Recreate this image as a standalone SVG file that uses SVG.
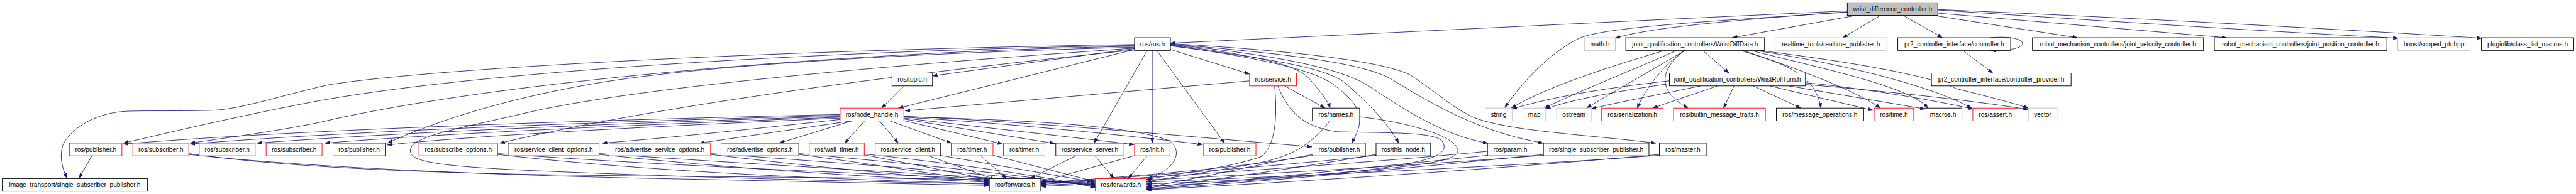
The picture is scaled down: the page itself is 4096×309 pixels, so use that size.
<svg xmlns="http://www.w3.org/2000/svg" width="4096" height="309" viewBox="0 0 4096 309">
<style>
.node rect{fill:#fff;stroke-width:1.3}
.k rect{stroke:#000}
.r rect{stroke:#ff0000}
.g rect{stroke:#bfbfbf}
.root rect{fill:#bfbfbf;stroke:#000}
.node text{font-family:"Liberation Sans",Arial,sans-serif;font-size:14px;text-anchor:middle;fill:#000}
#edges path{fill:none;stroke:#191970;stroke-width:1.2;marker-end:url(#arr)}
</style>
<defs>
<marker id="arr" viewBox="0 0 11 8" refX="11" refY="4" markerWidth="11" markerHeight="8" orient="auto" markerUnits="userSpaceOnUse">
<path d="M0,0 L11,4 L0,8 z" fill="#191970" stroke="#191970" stroke-width="0.5"/>
</marker>
</defs>
<rect width="4096" height="309" fill="#fff"/>
<g transform="scale(0.7233,0.7236)">
<g id="edges">
<path d="M4061,24 C3500,50 3000,75 2573,95"/>
<path d="M4061,27 C3700,50 3520,62 3470,85 C3400,120 3340,190 3308,237"/>
<path d="M4061,26 C3800,45 3620,62 3551,84"/>
<path d="M4081,34 L3808,83"/>
<path d="M4134,34 L4051,83"/>
<path d="M4184,34 L4270,83"/>
<path d="M4250,34 L4567,83"/>
<path d="M4260,29 L4895,83"/>
<path d="M4260,22 C4600,45 5000,70 5272,84"/>
<path d="M4260,21 C4700,40 5100,62 5456,84"/>
<path d="M4374,83 C4430,78 4452,90 4445,99 C4438,108 4410,112 4376,111"/>
<path d="M4315,111 L4381,161"/>
<path d="M3743,111 L3801,161"/>
<path d="M3660,111 C3560,140 3400,190 3322,238"/>
<path d="M3686,111 C3600,150 3460,205 3395,238"/>
<path d="M3704,111 C3640,150 3540,205 3488,238"/>
<path d="M3704,111 C3660,140 3620,190 3599,238"/>
<path d="M3704,111 C3650,150 3640,200 3711,238"/>
<path d="M3826,111 C3920,140 3990,160 4003,238"/>
<path d="M3831,111 C3950,150 4080,200 4134,238"/>
<path d="M3849,111 C4000,150 4200,190 4238,238"/>
<path d="M3858,111 C4050,140 4250,190 4334,238"/>
<path d="M3867,111 C4100,140 4250,170 4300,195 C4380,215 4430,228 4459,238"/>
<path d="M3670,178 C3560,190 3420,210 3324,240"/>
<path d="M3671,184 C3560,200 3450,220 3398,240"/>
<path d="M3739,189 C3640,210 3540,228 3498,240"/>
<path d="M3776,189 L3633,238"/>
<path d="M3812,189 L3789,238"/>
<path d="M3854,189 L3959,238"/>
<path d="M3890,189 L4118,243"/>
<path d="M3932,189 L4232,240"/>
<path d="M3969,182 C4100,195 4250,220 4337,240"/>
<path d="M3969,186 C4200,205 4380,228 4459,241"/>
<path d="M2494,107 L2050,167"/>
<path d="M2494,109 L1975,238"/>
<path d="M2573,109 L2747,163"/>
<path d="M2522,111 L2405,315"/>
<path d="M2533,111 L2533,315"/>
<path d="M2543,111 L2692,315"/>
<path d="M2573,99 C2750,120 2850,140 2880,175 C2910,210 2920,225 2924,238"/>
<path d="M2573,100 C2750,125 2880,150 2930,185 C2990,230 3005,260 2971,315"/>
<path d="M2573,101 C2800,130 2920,150 2960,185 C3010,230 3050,270 3075,315"/>
<path d="M2573,98 C2800,120 2950,150 3010,190 C3100,250 3180,300 3271,315"/>
<path d="M2573,97 C2850,120 3000,140 3060,175 C3150,230 3250,290 3393,315"/>
<path d="M2573,96 C2900,115 3050,140 3100,165 C3170,210 3210,255 3270,268 C3350,290 3500,298 3640,315"/>
<path d="M2494,98 C1700,110 950,150 720,187 C600,215 520,243 459,243 C380,245 320,243 275,245 C200,250 150,290 138,320 C130,345 137,370 147,392"/>
<path d="M2494,100 C1900,110 1100,150 700,222 C550,250 400,285 271,315"/>
<path d="M2494,102 C1900,112 1100,175 700,270 C600,290 500,303 418,315"/>
<path d="M2494,104 C1900,120 1500,150 1300,185 C1100,220 950,270 852,315"/>
<path d="M2494,106 C2000,140 1400,190 1150,250 C1000,285 905,300 902,330 C900,355 950,365 1160,375 C1500,390 1900,400 2175,405"/>
<path d="M2494,110 C2100,150 1500,220 1099,315"/>
<path d="M1988,189 L1938,238"/>
<path d="M2747,178 L1990,244"/>
<path d="M2824,189 L2913,238"/>
<path d="M2802,189 C2808,250 2806,320 2772,345 C2700,370 2600,380 2520,395"/>
<path d="M2809,189 C2830,240 2860,280 2940,290 C3050,293 3150,290 3170,310 C3190,340 3150,355 3000,375 C2800,395 2650,400 2520,405"/>
<path d="M2924,266 C2880,320 2840,345 2760,360 C2650,380 2580,390 2520,400"/>
<path d="M2989,257 C3100,270 3200,300 3205,330 C3208,355 3120,365 2950,380 C2800,395 2650,405 2520,410"/>
<path d="M2886,342 C2750,365 2550,385 2288,402"/>
<path d="M2886,340 C2750,365 2650,390 2520,412"/>
<path d="M3025,342 C2850,362 2550,385 2288,404"/>
<path d="M3025,340 C2880,365 2700,392 2520,414"/>
<path d="M3270,333 C3000,360 2600,385 2288,406"/>
<path d="M3270,342 C3000,370 2750,395 2520,416"/>
<path d="M3393,342 C3100,365 2700,388 2288,408"/>
<path d="M3393,340 C3100,370 2800,398 2520,417"/>
<path d="M3648,342 C3300,368 2800,390 2288,410"/>
<path d="M3648,340 C3300,372 2850,400 2520,418"/>
<path d="M202,343 L174,392"/>
<path d="M415,340 C600,360 900,380 1400,392 C1800,400 2000,405 2175,408"/>
<path d="M415,338 C600,365 900,383 1400,387 C1900,392 2200,393 2408,403"/>
<path d="M1094,340 C1400,375 1800,395 2175,404"/>
<path d="M1094,338 C1500,368 2000,385 2408,405"/>
<path d="M1317,340 C1600,370 1900,390 2175,401"/>
<path d="M1317,338 C1700,365 2100,385 2408,407"/>
<path d="M1562,340 C1800,368 2000,388 2175,399"/>
<path d="M1562,338 C1900,362 2200,385 2408,409"/>
<path d="M1756,340 C1950,365 2050,385 2175,397"/>
<path d="M1756,338 C2000,360 2250,385 2408,411"/>
<path d="M1900,341 C2000,360 2100,380 2175,395"/>
<path d="M1900,339 C2100,360 2300,388 2408,413"/>
<path d="M2041,343 L2187,395"/>
<path d="M2067,342 L2401,400"/>
<path d="M2156,343 L2213,393"/>
<path d="M2184,342 L2409,400"/>
<path d="M2365,343 L2265,393"/>
<path d="M2407,343 L2449,393"/>
<path d="M2496,342 L2288,400"/>
<path d="M2522,343 L2480,393"/>
<path d="M1985,265 L2204,317"/>
<path d="M1987,262 L2319,316"/>
<path d="M1987,260 L2493,318"/>
<path d="M1987,258 C2200,270 2450,295 2644,318"/>
<path d="M1987,256 C2300,270 2600,300 2884,323"/>
<path d="M1987,257 C2300,265 2500,280 2570,310 C2600,330 2590,370 2522,395"/>
<path d="M1873,266 L1713,315"/>
<path d="M1901,266 L1857,315"/>
<path d="M1933,266 L1975,315"/>
<path d="M1956,266 L2092,315"/>
<path d="M1847,252 C1400,262 700,282 271,317"/>
<path d="M1847,254 C1400,266 800,286 418,317"/>
<path d="M1847,256 C1400,270 900,290 565,315"/>
<path d="M1847,258 C1400,275 1000,292 714,315"/>
<path d="M1847,260 C1400,280 1050,298 852,319"/>
<path d="M1847,263 C1600,290 1450,305 1324,315"/>
<path d="M1873,266 L1538,315"/>
</g>
<g id="n_root" class="node root"><rect x="4061" y="6" width="199" height="28"/><text x="4160.5" y="25">wrist_difference_controller.h</text></g>
<g id="n_ros" class="node k"><rect x="2494" y="83" width="79" height="28"/><text x="2533.5" y="102">ros/ros.h</text></g>
<g id="n_math" class="node g"><rect x="3483" y="83" width="68" height="28"/><text x="3517" y="102">math.h</text></g>
<g id="n_wdd" class="node k"><rect x="3574" y="83" width="305" height="28"/><text x="3726.5" y="102">joint_qualification_controllers/WristDiffData.h</text></g>
<g id="n_rtp" class="node g"><rect x="3902" y="83" width="246" height="28"/><text x="4025" y="102">realtime_tools/realtime_publisher.h</text></g>
<g id="n_ctrl" class="node k"><rect x="4172" y="83" width="248" height="28"/><text x="4296" y="102">pr2_controller_interface/controller.h</text></g>
<g id="n_jvc" class="node k"><rect x="4468" y="83" width="376" height="28"/><text x="4656" y="102">robot_mechanism_controllers/joint_velocity_controller.h</text></g>
<g id="n_jpc" class="node k"><rect x="4868" y="83" width="379" height="28"/><text x="5057.5" y="102">robot_mechanism_controllers/joint_position_controller.h</text></g>
<g id="n_boost" class="node g"><rect x="5271" y="83" width="159" height="28"/><text x="5350.5" y="102">boost/scoped_ptr.hpp</text></g>
<g id="n_plug" class="node k"><rect x="5455" y="83" width="203" height="28"/><text x="5556.5" y="102">pluginlib/class_list_macros.h</text></g>
<g id="n_topic" class="node k"><rect x="1961" y="161" width="89" height="28"/><text x="2005.5" y="180">ros/topic.h</text></g>
<g id="n_service" class="node r"><rect x="2747" y="161" width="103" height="28"/><text x="2798.5" y="180">ros/service.h</text></g>
<g id="n_wrt" class="node k"><rect x="3670" y="161" width="299" height="28"/><text x="3819.5" y="180">joint_qualification_controllers/WristRollTurn.h</text></g>
<g id="n_cprov" class="node k"><rect x="4246" y="161" width="307" height="28"/><text x="4399.5" y="180">pr2_controller_interface/controller_provider.h</text></g>
<g id="n_nh" class="node r"><rect x="1847" y="238" width="140" height="28"/><text x="1917" y="257">ros/node_handle.h</text></g>
<g id="n_names" class="node k"><rect x="2885" y="238" width="104" height="28"/><text x="2937" y="257">ros/names.h</text></g>
<g id="n_string" class="node g"><rect x="3265" y="238" width="59" height="28"/><text x="3294.5" y="257">string</text></g>
<g id="n_map" class="node g"><rect x="3348" y="238" width="50" height="28"/><text x="3373" y="257">map</text></g>
<g id="n_ostream" class="node g"><rect x="3422" y="238" width="76" height="28"/><text x="3460" y="257">ostream</text></g>
<g id="n_ser" class="node r"><rect x="3521" y="238" width="135" height="28"/><text x="3588.5" y="257">ros/serialization.h</text></g>
<g id="n_bmt" class="node r"><rect x="3679" y="238" width="202" height="28"/><text x="3780" y="257">ros/builtin_message_traits.h</text></g>
<g id="n_mop" class="node k"><rect x="3905" y="238" width="192" height="28"/><text x="4001" y="257">ros/message_operations.h</text></g>
<g id="n_time" class="node r"><rect x="4120" y="238" width="87" height="28"/><text x="4163.5" y="257">ros/time.h</text></g>
<g id="n_macros" class="node k"><rect x="4230" y="238" width="83" height="28"/><text x="4271.5" y="257">macros.h</text></g>
<g id="n_assert" class="node r"><rect x="4337" y="238" width="99" height="28"/><text x="4386.5" y="257">ros/assert.h</text></g>
<g id="n_vector" class="node g"><rect x="4459" y="238" width="63" height="28"/><text x="4490.5" y="257">vector</text></g>
<g id="n_pub1" class="node r"><rect x="153" y="315" width="115" height="28"/><text x="210.5" y="334">ros/publisher.h</text></g>
<g id="n_sub1" class="node r"><rect x="292" y="315" width="123" height="28"/><text x="353.5" y="334">ros/subscriber.h</text></g>
<g id="n_sub2" class="node r"><rect x="438" y="315" width="123" height="28"/><text x="499.5" y="334">ros/subscriber.h</text></g>
<g id="n_sub3" class="node r"><rect x="585" y="315" width="123" height="28"/><text x="646.5" y="334">ros/subscriber.h</text></g>
<g id="n_pub2" class="node k"><rect x="732" y="315" width="115" height="28"/><text x="789.5" y="334">ros/publisher.h</text></g>
<g id="n_subopt" class="node r"><rect x="921" y="315" width="173" height="28"/><text x="1007.5" y="334">ros/subscribe_options.h</text></g>
<g id="n_scopt" class="node k"><rect x="1117" y="315" width="200" height="28"/><text x="1217" y="334">ros/service_client_options.h</text></g>
<g id="n_asopt" class="node r"><rect x="1339" y="315" width="223" height="28"/><text x="1450.5" y="334">ros/advertise_service_options.h</text></g>
<g id="n_aopt" class="node k"><rect x="1585" y="315" width="171" height="28"/><text x="1670.5" y="334">ros/advertise_options.h</text></g>
<g id="n_wtimer" class="node r"><rect x="1779" y="315" width="121" height="28"/><text x="1839.5" y="334">ros/wall_timer.h</text></g>
<g id="n_sclient" class="node k"><rect x="1924" y="315" width="144" height="28"/><text x="1996" y="334">ros/service_client.h</text></g>
<g id="n_timer1" class="node r"><rect x="2091" y="315" width="92" height="28"/><text x="2137" y="334">ros/timer.h</text></g>
<g id="n_timer2" class="node r"><rect x="2206" y="315" width="91" height="28"/><text x="2251.5" y="334">ros/timer.h</text></g>
<g id="n_sserver" class="node k"><rect x="2321" y="315" width="150" height="28"/><text x="2396" y="334">ros/service_server.h</text></g>
<g id="n_init" class="node r"><rect x="2494" y="315" width="78" height="28"/><text x="2533" y="334">ros/init.h</text></g>
<g id="n_pub3" class="node r"><rect x="2646" y="315" width="115" height="28"/><text x="2703.5" y="334">ros/publisher.h</text></g>
<g id="n_pub4" class="node r"><rect x="2886" y="315" width="116" height="28"/><text x="2944" y="334">ros/publisher.h</text></g>
<g id="n_thisnode" class="node k"><rect x="3025" y="315" width="120" height="28"/><text x="3085" y="334">ros/this_node.h</text></g>
<g id="n_param" class="node k"><rect x="3270" y="315" width="100" height="28"/><text x="3320" y="334">ros/param.h</text></g>
<g id="n_ssp" class="node k"><rect x="3393" y="315" width="232" height="28"/><text x="3509" y="334">ros/single_subscriber_publisher.h</text></g>
<g id="n_master" class="node k"><rect x="3648" y="315" width="103" height="28"/><text x="3699.5" y="334">ros/master.h</text></g>
<g id="n_it" class="node k"><rect x="5" y="393" width="319" height="28"/><text x="164.5" y="412">image_transport/single_subscriber_publisher.h</text></g>
<g id="n_fwd1" class="node k"><rect x="2175" y="393" width="113" height="28"/><text x="2231.5" y="412">ros/forwards.h</text></g>
<g id="n_fwd2" class="node r"><rect x="2408" y="393" width="112" height="28"/><text x="2464" y="412">ros/forwards.h</text></g>
</g>
</svg>
